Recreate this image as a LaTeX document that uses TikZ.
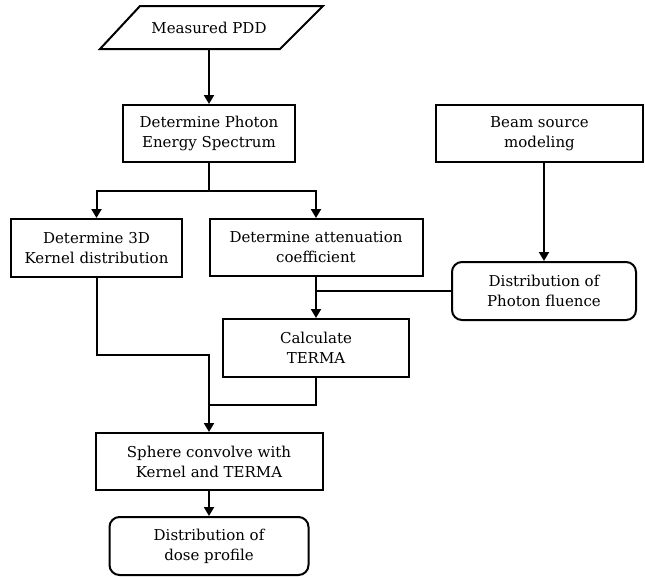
\documentclass[tikz,border=0pt]{standalone}
\usepackage{fontspec}
\setmainfont{DejaVu Serif}
\usetikzlibrary{arrows.meta}
\begin{document}
\begin{tikzpicture}[x=1pt,y=-1pt,
  every node/.style={font=\fontsize{15}{20}\selectfont, align=center, inner sep=0pt},
  proc/.style={draw, line width=2pt, minimum height=57pt},
  term/.style={proc, rounded corners=10pt},
  conn/.style={line width=2pt},
  arr/.style={conn, -{Triangle[length=9pt,width=10pt]}}]
\useasboundingbox (0,0) rectangle (645,576);
% parallelogram input
\node[minimum width=140pt, minimum height=43pt] (pdd) at (209,27.5) {Measured PDD};
\draw[line width=2pt] (100,49) -- (140,6) -- (323,6) -- (280,49) -- cycle;
\node[proc, minimum width=172pt] (spec) at (209,133.5) {Determine Photon\\Energy Spectrum};
\node[proc, minimum width=207pt] (beam) at (539.5,133.5) {Beam source\\modeling};
\node[proc, minimum width=171pt, minimum height=58pt] (kern) at (96.5,248) {Determine 3D\\Kernel distribution};
\node[proc, minimum width=213pt] (att) at (316,247.5) {Determine attenuation\\coefficient};
\node[term, minimum width=184pt, minimum height=58pt] (flu) at (544,291) {Distribution of\\Photon fluence};
\node[proc, minimum width=186pt, minimum height=58pt] (terma) at (316,348) {Calculate\\TERMA};
\node[proc, minimum width=227pt] (sph) at (209,461.5) {Sphere convolve with\\Kernel and TERMA};
\node[term, minimum width=199pt, minimum height=58pt] (dose) at (209,546) {Distribution of\\dose profile};
\coordinate (split) at (209,191);
\coordinate (join) at (209,405);
% connectors
\draw[arr] (pdd.south) -- (spec.north);
\draw[conn] (spec.south) -- (split);
\draw[arr] (split) -| (kern.north);
\draw[arr] (split) -| (att.north);
\draw[arr] (flu.north |- beam.south) -- (flu.north);
\draw[arr] (att.south) -- (terma.north);
\draw[conn] (flu.west) -- (flu.west -| att.south);
\draw[arr] (kern.south) |- (209,355) -- (sph.north);
\draw[conn] (terma.south) |- (join);
\draw[arr] (sph.south) -- (dose.north);
\end{tikzpicture}
\end{document}
